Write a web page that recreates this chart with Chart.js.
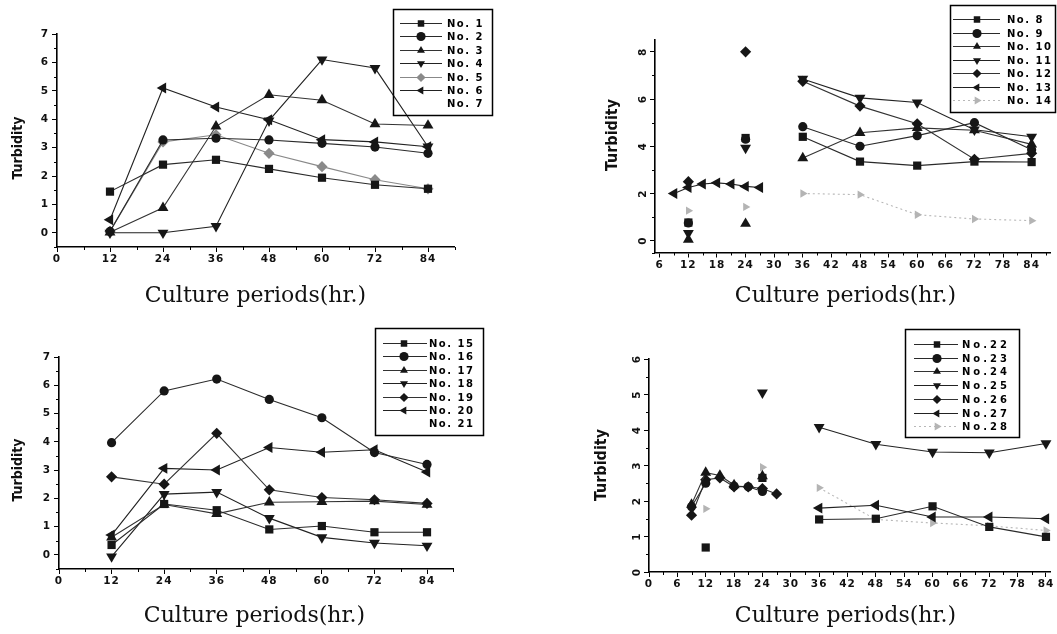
<!DOCTYPE html>
<html><head><meta charset="utf-8">
<script src="https://cdn.jsdelivr.net/npm/chart.js@4.4.1/dist/chart.umd.min.js"></script>
<style>
html,body{margin:0;padding:0;background:#fff;}
#wrap{position:relative;width:1057px;height:634px;overflow:hidden;background:#fff;}
canvas{position:absolute;}
</style></head><body><div id="wrap">
<canvas id="c1" width="528" height="317" style="left:0px;top:0px;width:528px;height:317px"></canvas>
<canvas id="c2" width="529" height="317" style="left:528px;top:0px;width:529px;height:317px"></canvas>
<canvas id="c3" width="528" height="317" style="left:0px;top:317px;width:528px;height:317px"></canvas>
<canvas id="c4" width="529" height="317" style="left:528px;top:317px;width:529px;height:317px"></canvas>
</div>
<script>
// ---------- Panel 1 : No.1 - No.7 ----------
const hours1 = [12, 24, 36, 48, 60, 72, 84];
const names1 = ['No. 1', 'No. 2', 'No. 3', 'No. 4', 'No. 5', 'No. 6', 'No. 7'];
const no1 = [1.45, 2.40, 2.57, 2.25, 1.94, 1.69, 1.55];
const no2 = [0.05, 3.27, 3.33, 3.27, 3.15, 3.02, 2.80];
const no3 = [0.02, 0.88, 3.75, 4.86, 4.67, 3.83, 3.78];
const no4 = [0.00, 0.00, 0.23, 3.95, 6.10, 5.80, 3.03];
const no5 = [0.05, 3.20, 3.45, 2.80, 2.33, 1.87, 1.55];
const no6 = [0.46, 5.10, 4.43, 3.98, 3.28, 3.20, 3.03];
const no7 = [];
const xTicks1 = [0, 12, 24, 36, 48, 60, 72, 84];
const xMinor1 = [6, 18, 30, 42, 54, 66, 78, 90];
const yTicks1 = [0, 1, 2, 3, 4, 5, 6, 7];
const yMinor1 = [-0.5, 0.5, 1.5, 2.5, 3.5, 4.5, 5.5, 6.5];

// ---------- Panel 2 : No.8 - No.14 ----------
const hours2 = [9, 12, 15, 18, 21, 24, 27, 30, 36, 48, 60, 72, 84];
const names2 = ['No. 8', 'No. 9', 'No. 10', 'No. 11', 'No. 12', 'No. 13', 'No. 14'];
const no8  = [null, 0.77, null, null, null, 4.35, null, null, 4.40, 3.35, 3.18, 3.35, 3.33];
const no9  = [null, 0.75, null, null, null, 4.30, null, null, 4.83, 4.00, 4.45, 5.00, 3.85];
const no10 = [null, 0.05, null, null, null, 0.72, null, null, 3.50, 4.57, 4.78, 4.68, 4.08];
const no11 = [null, 0.32, null, null, null, 3.93, null, null, 6.85, 6.05, 5.85, 4.70, 4.40];
const no12 = [null, 2.50, null, null, null, 8.00, null, null, 6.75, 5.70, 4.95, 3.45, 3.70];
const no13 = [2.00, 2.25, 2.40, 2.45, 2.40, 2.30, 2.25, null, null, null, null, null, null];
const no14 = [null, 1.27, null, null, null, 1.43, null, null, 2.00, 1.95, 1.10, 0.92, 0.85];
const xTicks2 = [6, 12, 18, 24, 30, 36, 42, 48, 54, 60, 66, 72, 78, 84];
const xMinor2 = [9, 15, 21, 27, 33, 39, 45, 51, 57, 63, 69, 75, 81, 87];
const yTicks2 = [0, 2, 4, 6, 8];
const yMinor2 = [-0.5, 1, 3, 5, 7];

// ---------- Panel 3 : No.15 - No.21 ----------
const hours3 = [12, 24, 36, 48, 60, 72, 84];
const names3 = ['No. 15', 'No. 16', 'No. 17', 'No. 18', 'No. 19', 'No. 20', 'No. 21'];
const no15 = [0.35, 1.80, 1.58, 0.90, 1.02, 0.80, 0.80];
const no16 = [3.97, 5.80, 6.22, 5.50, 4.85, 3.62, 3.20];
const no17 = [0.62, 1.78, 1.45, 1.86, 1.88, 1.90, 1.78];
const no18 = [-0.06, 2.15, 2.22, 1.30, 0.62, 0.42, 0.32];
const no19 = [2.76, 2.50, 4.30, 2.30, 2.03, 1.95, 1.82];
const no20 = [0.70, 3.06, 3.00, 3.80, 3.63, 3.72, 2.93];
const no21 = [];
const xTicks3 = [0, 12, 24, 36, 48, 60, 72, 84];
const xMinor3 = [6, 18, 30, 42, 54, 66, 78, 90];
const yTicks3 = [0, 1, 2, 3, 4, 5, 6, 7];
const yMinor3 = [-0.5, 0.5, 1.5, 2.5, 3.5, 4.5, 5.5, 6.5];

// ---------- Panel 4 : No.22 - No.28 ----------
const hours4 = [9, 12, 15, 18, 21, 24, 27, 30, 36, 48, 60, 72, 84];
const names4 = ['No.22', 'No.23', 'No.24', 'No.25', 'No.26', 'No.27', 'No.28'];
const no22 = [null, 0.69, null, null, null, 2.65, null, null, 1.48, 1.50, 1.85, 1.27, 0.99];
const no23 = [1.84, 2.50, null, 2.42, 2.40, 2.27, null, null, null, null, null, null, null];
const no24 = [1.90, 2.80, 2.72, 2.45, null, 2.70, null, null, null, null, null, null, null];
const no25 = [null, null, null, null, null, 5.05, null, null, 4.08, 3.60, 3.38, 3.36, 3.62];
const no26 = [1.60, 2.60, 2.65, 2.40, 2.40, 2.35, 2.20, null, null, null, null, null, null];
const no27 = [null, null, null, null, null, null, null, null, 1.80, 1.88, 1.55, 1.55, 1.50];
const no28 = [null, 1.78, null, null, null, 2.95, null, null, 2.37, 1.48, 1.38, 1.30, 1.17];
const xTicks4 = [0, 6, 12, 18, 24, 30, 36, 42, 48, 54, 60, 66, 72, 78, 84];
const xMinor4 = [3, 9, 15, 21, 27, 33, 39, 45, 51, 57, 63, 69, 75, 81];
const yTicks4 = [0, 1, 2, 3, 4, 5, 6];
const yMinor4 = [0.5, 1.5, 2.5, 3.5, 4.5, 5.5];

// ---------- styles ----------
const INK = '#161616';
const baseStyles = [
  {ps: 'rect', rot: 0, r: 5.8, fill: INK, line: '#2a2a2a'},
  {ps: 'circle', rot: 0, r: 4.6, fill: INK, line: '#2a2a2a'},
  {ps: 'triangle', rot: 0, r: 6.3, fill: INK, line: '#333'},
  {ps: 'triangle', rot: 180, r: 6.3, fill: INK, line: '#222'},
  {ps: 'rectRot', rot: 0, r: 5.6, fill: INK, line: '#333'},
  {ps: 'triangle', rot: 270, r: 6.3, fill: INK, line: '#222'},
  {ps: 'triangle', rot: 90, r: 4.8, fill: '#b4b4b4', line: '#b8b8b8', dash: [2, 3]}
];
function stylesFor(panel) {
  return baseStyles.map((s, i) => {
    const c = Object.assign({}, s);
    if (panel === 1 && i === 4) { c.fill = '#8a8a8a'; c.line = '#888'; }
    if ((panel === 1 || panel === 3) && i === 6) { c.none = true; }
    return c;
  });
}

function fallbackPoint(ctx, o, x, y) {
  const r = o.radius, rad = (o.rotation || 0) * Math.PI / 180;
  ctx.beginPath();
  if (o.pointStyle === 'circle') ctx.arc(x, y, r, 0, Math.PI * 2);
  else if (o.pointStyle === 'rect') { const s = Math.SQRT1_2 * r; ctx.rect(x - s, y - s, 2 * s, 2 * s); }
  else if (o.pointStyle === 'rectRot') { ctx.moveTo(x, y - r); ctx.lineTo(x + r, y); ctx.lineTo(x, y + r); ctx.lineTo(x - r, y); ctx.closePath(); }
  else { let a = rad; ctx.moveTo(x + Math.sin(a) * r, y - Math.cos(a) * r); for (let k = 0; k < 2; k++) { a += 2 * Math.PI / 3; ctx.lineTo(x + Math.sin(a) * r, y - Math.cos(a) * r); } ctx.closePath(); }
  ctx.fill();
}

const decor = {
  id: 'decor',
  beforeDraw(chart, args, o) { chart.ctx.letterSpacing = o.tickSpacing || '0px'; },
  afterDraw(chart, args, o) {
    const ctx = chart.ctx, a = chart.chartArea, xs = chart.scales.x, ys = chart.scales.y;
    ctx.save();
    ctx.letterSpacing = '0px';
    ctx.strokeStyle = '#000'; ctx.lineWidth = 1; ctx.setLineDash([]);
    ctx.beginPath();
    (o.xMinor || []).forEach(v => { const p = Math.round(xs.getPixelForValue(v)) + 0.5; ctx.moveTo(p, a.bottom); ctx.lineTo(p, a.bottom + 3); });
    (o.yMinor || []).forEach(v => { const p = Math.round(ys.getPixelForValue(v)) + 0.5; ctx.moveTo(a.left - 3, p); ctx.lineTo(a.left, p); });
    ctx.stroke();
    // axis titles
    ctx.fillStyle = '#111';
    ctx.font = o.xTitle.font; ctx.textAlign = 'center'; ctx.textBaseline = 'alphabetic';
    ctx.fillText(o.xTitle.text, o.xTitle.x, o.xTitle.y);
    ctx.save();
    ctx.translate(o.yTitle.x, o.yTitle.y); ctx.rotate(-Math.PI / 2);
    ctx.font = o.yTitle.font; ctx.textAlign = 'center'; ctx.textBaseline = 'middle';
    ctx.fillText(o.yTitle.text, 0, 0);
    ctx.restore();
    // legend
    const L = o.legend;
    ctx.lineWidth = 1.5; ctx.strokeStyle = '#000';
    ctx.strokeRect(L.box[0] + 0.5, L.box[1] + 0.5, L.box[2], L.box[3]);
    chart.data.datasets.forEach((ds, i) => {
      const y = Math.round(L.row0 + i * L.gap);
      if (ds.legendMark !== false) {
        ctx.save();
        ctx.strokeStyle = ds.borderColor; ctx.lineWidth = 1; ctx.setLineDash(ds.borderDash || []);
        ctx.beginPath(); ctx.moveTo(L.lx1, y + 0.5); ctx.lineTo(L.lx2, y + 0.5); ctx.stroke();
        ctx.setLineDash([]);
        ctx.fillStyle = ds.pointBackgroundColor; ctx.strokeStyle = ds.pointBackgroundColor;
        const po = {pointStyle: ds.pointStyle, rotation: ds.pointRotation, radius: L.r, borderWidth: 0};
        if (Chart.helpers && Chart.helpers.drawPoint) Chart.helpers.drawPoint(ctx, po, L.mx, y + 0.5);
        else fallbackPoint(ctx, po, L.mx, y + 0.5);
        ctx.restore();
      }
      ctx.font = L.font; ctx.letterSpacing = L.spacing; ctx.fillStyle = '#000';
      ctx.textAlign = 'left'; ctx.textBaseline = 'middle';
      ctx.fillText(ds.label, L.tx, y + 1);
    });
    ctx.restore();
  }
};

const tickFont = {family: '"DejaVu Sans", sans-serif', weight: 'bold', size: 10.5};

function buildChart(id, p) {
  const st = stylesFor(p.panel);
  const datasets = p.series.map((ys, i) => {
    const s = st[i];
    return {
      label: p.names[i],
      data: ys.length ? p.hours.map((h, j) => ({x: h, y: ys[j]})) : [],
      borderColor: s.none ? 'rgba(0,0,0,0)' : s.line,
      borderWidth: 1.1,
      borderDash: s.dash || [],
      pointStyle: s.ps, pointRotation: s.rot, pointRadius: s.none ? 0 : s.r,
      pointBackgroundColor: s.fill, pointBorderColor: s.fill, pointBorderWidth: 0,
      pointHoverRadius: s.r,
      showLine: !s.none, spanGaps: false, tension: 0, fill: false, clip: false,
      legendMark: !s.none
    };
  });
  return new Chart(document.getElementById(id), {
    type: 'line',
    data: {datasets},
    options: {
      animation: false, responsive: false, devicePixelRatio: 1, events: [],
      layout: {padding: p.pad},
      plugins: {
        legend: {display: false}, tooltip: {enabled: false},
        decor: p.decor
      },
      scales: {
        x: {
          type: 'linear', min: p.xmin, max: p.xmax,
          afterBuildTicks: s => { s.ticks = p.xTicks.map(v => ({value: v})); },
          afterFit: s => { s.height = 30; },
          grid: {display: true, drawOnChartArea: false, drawTicks: true, tickLength: 5, color: '#000', lineWidth: 1},
          border: {display: true, color: '#000', width: 1.6},
          ticks: {color: '#111', font: tickFont, padding: 1, maxRotation: 0, minRotation: 0, autoSkip: false,
                  callback: v => String(v)}
        },
        y: {
          type: 'linear', min: p.ymin, max: p.ymax,
          afterBuildTicks: s => { s.ticks = p.yTicks.map(v => ({value: v})); },
          afterFit: s => { s.width = 40; },
          grid: {display: true, drawOnChartArea: false, drawTicks: true, tickLength: 5, color: '#000', lineWidth: 1},
          border: {display: true, color: '#000', width: 1.6},
          ticks: {color: '#111', font: tickFont, padding: 3, autoSkip: false,
                  minRotation: p.rotY ? 90 : 0, maxRotation: p.rotY ? 90 : 0,
                  crossAlign: p.rotY ? 'center' : 'near',
                  callback: v => String(v)}
        }
      }
    },
    plugins: [decor]
  });
}

const serifFont = '22px "DejaVu Serif", serif';
const narrowFont = s => 'bold ' + s + 'px "Liberation Sans Narrow", "DejaVu Sans Condensed", sans-serif';
const legendFont = 'bold 10px "DejaVu Sans", sans-serif';

buildChart('c1', {
  panel: 1, hours: hours1, names: names1, series: [no1, no2, no3, no4, no5, no6, no7],
  xmin: 0, xmax: 90, ymin: -0.5, ymax: 7, xTicks: xTicks1, yTicks: yTicks1, rotY: false,
  pad: {left: 17, right: 73.5, top: 34, bottom: 40},
  decor: {
    tickSpacing: '1px', xMinor: xMinor1, yMinor: yMinor1,
    xTitle: {text: 'Culture periods(hr.)', x: 255.5, y: 302, font: serifFont},
    yTitle: {text: 'Turbidity', x: 18, y: 148, font: narrowFont(14)},
    legend: {box: [393, 9, 99, 106], row0: 23, gap: 13.4, lx1: 400, lx2: 442, mx: 421, tx: 447, r: 4.6, font: legendFont, spacing: '1.5px'}
  }
});

buildChart('c2', {
  panel: 2, hours: hours2, names: names2, series: [no8, no9, no10, no11, no12, no13, no14],
  xmin: 5, xmax: 88, ymin: -0.5, ymax: 8.5, xTicks: xTicks2, yTicks: yTicks2, rotY: true,
  pad: {left: 87, right: 5, top: 40, bottom: 34.5},
  decor: {
    tickSpacing: '1px', xMinor: xMinor2, yMinor: yMinor2,
    xTitle: {text: 'Culture periods(hr.)', x: 317.5, y: 302, font: serifFont},
    yTitle: {text: 'Turbidity', x: 85, y: 135, font: narrowFont(16)},
    legend: {box: [422, 5, 105, 107], row0: 19, gap: 13.5, lx1: 425, lx2: 472, mx: 449, tx: 479, r: 4.6, font: legendFont, spacing: '1.5px'}
  }
});

buildChart('c3', {
  panel: 3, hours: hours3, names: names3, series: [no15, no16, no17, no18, no19, no20, no21],
  xmin: 0, xmax: 90, ymin: -0.5, ymax: 7, xTicks: xTicks3, yTicks: yTicks3, rotY: false,
  pad: {left: 19, right: 74.7, top: 40, bottom: 35},
  decor: {
    tickSpacing: '1px', xMinor: xMinor3, yMinor: yMinor3,
    xTitle: {text: 'Culture periods(hr.)', x: 254.5, y: 305, font: serifFont},
    yTitle: {text: 'Turbidity', x: 18, y: 153, font: narrowFont(14)},
    legend: {box: [375, 11, 108, 107], row0: 26, gap: 13.4, lx1: 383, lx2: 427, mx: 404, tx: 429, r: 4.6, font: legendFont, spacing: '1.5px'}
  }
});

buildChart('c4', {
  panel: 4, hours: hours4, names: names4, series: [no22, no23, no24, no25, no26, no27, no28],
  xmin: 0, xmax: 85, ymin: 0, ymax: 6, xTicks: xTicks4, yTicks: yTicks4, rotY: true,
  pad: {left: 81, right: 5.3, top: 42, bottom: 32},
  decor: {
    tickSpacing: '1px', xMinor: xMinor4, yMinor: yMinor4,
    xTitle: {text: 'Culture periods(hr.)', x: 317.5, y: 305, font: serifFont},
    yTitle: {text: 'Turbidity', x: 74, y: 148, font: narrowFont(16)},
    legend: {box: [377, 12, 114, 108], row0: 27, gap: 13.7, lx1: 386, lx2: 430, mx: 409, tx: 434, r: 4.6, font: legendFont, spacing: '3px'}
  }
});
</script>
</body></html>
